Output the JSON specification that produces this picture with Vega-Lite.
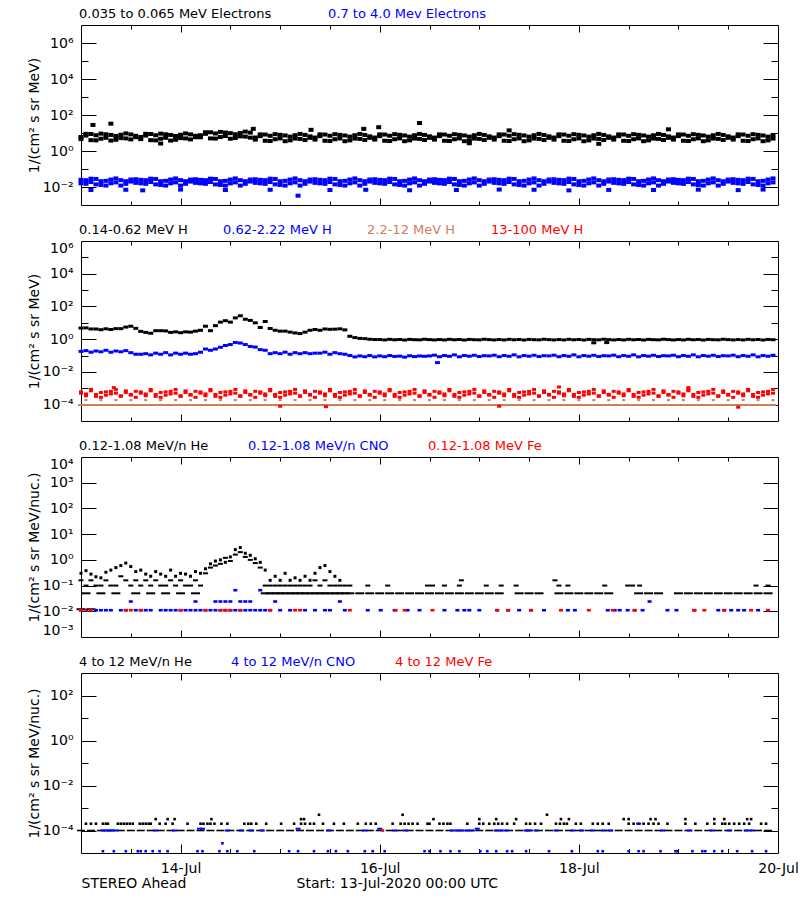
{
"$schema": "https://vega.github.io/schema/vega-lite/v6.json",
"background": "white",
"padding": {"left": 26, "top": 6, "right": 10, "bottom": 5},
"spacing": 16,
"resolve": {"scale": {"color": "independent", "shape": "independent"}, "legend": {"color": "independent", "shape": "independent"}},
"config": {
 "view": {"stroke": "black", "strokeWidth": 1},
 "font": "DejaVu Sans",
 "axis": {"domain": false, "grid": false, "tickColor": "black", "tickWidth": 1, "labelColor": "black", "labelFont": "DejaVu Sans", "labelFontSize": 14, "titleFont": "DejaVu Sans", "titleFontSize": 14, "titleFontWeight": "normal", "titleColor": "black", "labelOverlap": false},
 "legend": {"orient": "top", "direction": "horizontal", "offset": 3, "padding": 0, "labelOffset": -15, "symbolSize": 0.01, "symbolStrokeWidth": 0.01, "symbolOpacity": 0, "labelFontSize": 13, "labelFont": "DejaVu Sans", "labelLimit": 1000}
},
"vconcat": [
{
 "width": 697, "height": 180,
 "data": {"values": [
{"t":13,"a":6.0,"a2":4.6,"b":0.025,"b2":0.016},
{"t":13.05,"a":9.0,"a2":7.2,"b":0.015,"b2":0.024},
{"t":13.1,"a":4.0,"a2":8.8,"b":0.019,"b2":0.029},
{"t":13.15,"a":7.5,"a2":3.9,"b":0.028,"b2":0.014},
{"t":13.2,"a":4.8,"a2":9.2,"b":0.013,"b2":0.021},
{"t":13.25,"a":8.5,"a2":5.4,"b":0.022,"b2":0.012},
{"t":13.3,"a":3.8,"a2":7.8,"b":0.016,"b2":0.026},
{"t":13.35,"a":6.8,"a2":4.2,"b":0.030,"b2":0.018},
{"t":13.4,"a":5.2,"a2":8.0,"b":0.012,"b2":0.024},
{"t":13.45,"a":9.5,"a2":5.0,"b":0.021,"b2":0.015},
{"t":13.5,"a":4.4,"a2":8.4,"b":0.026,"b2":0.020},
{"t":13.55,"a":7.0,"a2":5.8,"b":0.017,"b2":0.027},
{"t":13.6,"a":4.6,"a2":6.0,"b":0.025,"b2":0.016},
{"t":13.65,"a":7.2,"a2":9.0,"b":0.015,"b2":0.024},
{"t":13.7,"a":8.8,"a2":4.0,"b":0.019,"b2":0.029},
{"t":13.75,"a":3.9,"a2":7.5,"b":0.028,"b2":0.014},
{"t":13.8,"a":9.2,"a2":4.8,"b":0.013,"b2":0.021},
{"t":13.85,"a":5.4,"a2":8.5,"b":0.022,"b2":0.012},
{"t":13.9,"a":7.8,"a2":3.8,"b":0.016,"b2":0.026},
{"t":13.95,"a":4.2,"a2":6.8,"b":0.030,"b2":0.018},
{"t":14,"a":8.0,"a2":5.2,"b":0.012,"b2":0.024},
{"t":14.05,"a":5.0,"a2":9.5,"b":0.021,"b2":0.015},
{"t":14.1,"a":8.4,"a2":4.4,"b":0.026,"b2":0.020},
{"t":14.15,"a":5.8,"a2":7.0,"b":0.017,"b2":0.027},
{"t":14.2,"a":7.5,"a2":5.8,"b":0.025,"b2":0.016},
{"t":14.25,"a":11,"a2":9.0,"b":0.015,"b2":0.024},
{"t":14.3,"a":5.0,"a2":11,"b":0.019,"b2":0.029},
{"t":14.35,"a":9.4,"a2":4.9,"b":0.028,"b2":0.014},
{"t":14.4,"a":6.0,"a2":11.5,"b":0.013,"b2":0.021},
{"t":14.45,"a":10.6,"a2":6.8,"b":0.022,"b2":0.012},
{"t":14.5,"a":4.8,"a2":9.8,"b":0.016,"b2":0.026},
{"t":14.55,"a":8.5,"a2":5.3,"b":0.030,"b2":0.018},
{"t":14.6,"a":6.5,"a2":10,"b":0.012,"b2":0.024},
{"t":14.65,"a":12,"a2":6.3,"b":0.021,"b2":0.015},
{"t":14.7,"a":5.5,"a2":10.5,"b":0.026,"b2":0.020},
{"t":14.75,"a":5.6,"a2":4.3,"b":0.017,"b2":0.027},
{"t":14.8,"a":8.4,"a2":6.7,"b":0.025,"b2":0.016},
{"t":14.85,"a":3.7,"a2":8.2,"b":0.015,"b2":0.024},
{"t":14.9,"a":7.0,"a2":3.6,"b":0.019,"b2":0.029},
{"t":14.95,"a":4.5,"a2":8.6,"b":0.028,"b2":0.014},
{"t":15,"a":7.9,"a2":5.0,"b":0.013,"b2":0.021},
{"t":15.05,"a":3.5,"a2":7.3,"b":0.022,"b2":0.012},
{"t":15.1,"a":6.3,"a2":3.9,"b":0.016,"b2":0.026},
{"t":15.15,"a":4.9,"a2":7.5,"b":0.030,"b2":0.018},
{"t":15.2,"a":8.9,"a2":4.7,"b":0.012,"b2":0.024},
{"t":15.25,"a":4.1,"a2":7.8,"b":0.021,"b2":0.015},
{"t":15.3,"a":6.5,"a2":5.4,"b":0.026,"b2":0.020},
{"t":15.35,"a":4.3,"a2":5.6,"b":0.017,"b2":0.027},
{"t":15.4,"a":6.7,"a2":8.4,"b":0.025,"b2":0.016},
{"t":15.45,"a":8.2,"a2":3.7,"b":0.015,"b2":0.024},
{"t":15.5,"a":3.6,"a2":7.0,"b":0.019,"b2":0.029},
{"t":15.55,"a":8.6,"a2":4.5,"b":0.028,"b2":0.014},
{"t":15.6,"a":5.0,"a2":7.9,"b":0.013,"b2":0.021},
{"t":15.65,"a":7.3,"a2":3.5,"b":0.022,"b2":0.012},
{"t":15.7,"a":3.9,"a2":6.3,"b":0.016,"b2":0.026},
{"t":15.75,"a":7.5,"a2":4.9,"b":0.030,"b2":0.018},
{"t":15.8,"a":4.7,"a2":8.9,"b":0.012,"b2":0.024},
{"t":15.85,"a":7.8,"a2":4.1,"b":0.021,"b2":0.015},
{"t":15.9,"a":5.4,"a2":6.5,"b":0.026,"b2":0.020},
{"t":15.95,"a":5.6,"a2":4.3,"b":0.017,"b2":0.027},
{"t":16,"a":8.4,"a2":6.7,"b":0.025,"b2":0.016},
{"t":16.05,"a":3.7,"a2":8.2,"b":0.015,"b2":0.024},
{"t":16.1,"a":7.0,"a2":3.6,"b":0.019,"b2":0.029},
{"t":16.15,"a":4.5,"a2":8.6,"b":0.028,"b2":0.014},
{"t":16.2,"a":7.9,"a2":5.0,"b":0.013,"b2":0.021},
{"t":16.25,"a":3.5,"a2":7.3,"b":0.022,"b2":0.012},
{"t":16.3,"a":6.3,"a2":3.9,"b":0.016,"b2":0.026},
{"t":16.35,"a":4.9,"a2":7.5,"b":0.030,"b2":0.018},
{"t":16.4,"a":8.9,"a2":4.7,"b":0.012,"b2":0.024},
{"t":16.45,"a":4.1,"a2":7.8,"b":0.021,"b2":0.015},
{"t":16.5,"a":6.5,"a2":5.4,"b":0.026,"b2":0.020},
{"t":16.55,"a":4.3,"a2":5.6,"b":0.017,"b2":0.027},
{"t":16.6,"a":6.7,"a2":8.4,"b":0.025,"b2":0.016},
{"t":16.65,"a":8.2,"a2":3.7,"b":0.015,"b2":0.024},
{"t":16.7,"a":3.6,"a2":7.0,"b":0.019,"b2":0.029},
{"t":16.75,"a":8.6,"a2":4.5,"b":0.028,"b2":0.014},
{"t":16.8,"a":5.0,"a2":7.9,"b":0.013,"b2":0.021},
{"t":16.85,"a":7.3,"a2":3.5,"b":0.022,"b2":0.012},
{"t":16.9,"a":3.9,"a2":6.3,"b":0.016,"b2":0.026},
{"t":16.95,"a":7.5,"a2":4.9,"b":0.030,"b2":0.018},
{"t":17,"a":4.7,"a2":8.9,"b":0.012,"b2":0.024},
{"t":17.05,"a":7.8,"a2":4.1,"b":0.021,"b2":0.015},
{"t":17.1,"a":5.4,"a2":6.5,"b":0.026,"b2":0.020},
{"t":17.15,"a":5.6,"a2":4.3,"b":0.017,"b2":0.027},
{"t":17.2,"a":8.4,"a2":6.7,"b":0.025,"b2":0.016},
{"t":17.25,"a":3.7,"a2":8.2,"b":0.015,"b2":0.024},
{"t":17.3,"a":7.0,"a2":3.6,"b":0.019,"b2":0.029},
{"t":17.35,"a":4.5,"a2":8.6,"b":0.028,"b2":0.014},
{"t":17.4,"a":7.9,"a2":5.0,"b":0.013,"b2":0.021},
{"t":17.45,"a":3.5,"a2":7.3,"b":0.022,"b2":0.012},
{"t":17.5,"a":6.3,"a2":3.9,"b":0.016,"b2":0.026},
{"t":17.55,"a":4.9,"a2":7.5,"b":0.030,"b2":0.018},
{"t":17.6,"a":8.9,"a2":4.7,"b":0.012,"b2":0.024},
{"t":17.65,"a":4.1,"a2":7.8,"b":0.021,"b2":0.015},
{"t":17.7,"a":6.5,"a2":5.4,"b":0.026,"b2":0.020},
{"t":17.75,"a":4.3,"a2":5.6,"b":0.017,"b2":0.027},
{"t":17.8,"a":6.7,"a2":8.4,"b":0.025,"b2":0.016},
{"t":17.85,"a":8.2,"a2":3.7,"b":0.015,"b2":0.024},
{"t":17.9,"a":3.6,"a2":7.0,"b":0.019,"b2":0.029},
{"t":17.95,"a":8.6,"a2":4.5,"b":0.028,"b2":0.014},
{"t":18,"a":5.0,"a2":7.9,"b":0.013,"b2":0.021},
{"t":18.05,"a":7.3,"a2":3.5,"b":0.022,"b2":0.012},
{"t":18.1,"a":3.9,"a2":6.3,"b":0.016,"b2":0.026},
{"t":18.15,"a":7.5,"a2":4.9,"b":0.030,"b2":0.018},
{"t":18.2,"a":4.7,"a2":8.9,"b":0.012,"b2":0.024},
{"t":18.25,"a":7.8,"a2":4.1,"b":0.021,"b2":0.015},
{"t":18.3,"a":5.4,"a2":6.5,"b":0.026,"b2":0.020},
{"t":18.35,"a":5.6,"a2":4.3,"b":0.017,"b2":0.027},
{"t":18.4,"a":8.4,"a2":6.7,"b":0.025,"b2":0.016},
{"t":18.45,"a":3.7,"a2":8.2,"b":0.015,"b2":0.024},
{"t":18.5,"a":7.0,"a2":3.6,"b":0.019,"b2":0.029},
{"t":18.55,"a":4.5,"a2":8.6,"b":0.028,"b2":0.014},
{"t":18.6,"a":7.9,"a2":5.0,"b":0.013,"b2":0.021},
{"t":18.65,"a":3.5,"a2":7.3,"b":0.022,"b2":0.012},
{"t":18.7,"a":6.3,"a2":3.9,"b":0.016,"b2":0.026},
{"t":18.75,"a":4.9,"a2":7.5,"b":0.030,"b2":0.018},
{"t":18.8,"a":8.9,"a2":4.7,"b":0.012,"b2":0.024},
{"t":18.85,"a":4.1,"a2":7.8,"b":0.021,"b2":0.015},
{"t":18.9,"a":6.5,"a2":5.4,"b":0.026,"b2":0.020},
{"t":18.95,"a":4.3,"a2":5.6,"b":0.017,"b2":0.027},
{"t":19,"a":6.7,"a2":8.4,"b":0.025,"b2":0.016},
{"t":19.05,"a":8.2,"a2":3.7,"b":0.015,"b2":0.024},
{"t":19.1,"a":3.6,"a2":7.0,"b":0.019,"b2":0.029},
{"t":19.15,"a":8.6,"a2":4.5,"b":0.028,"b2":0.014},
{"t":19.2,"a":5.0,"a2":7.9,"b":0.013,"b2":0.021},
{"t":19.25,"a":7.3,"a2":3.5,"b":0.022,"b2":0.012},
{"t":19.3,"a":3.9,"a2":6.3,"b":0.016,"b2":0.026},
{"t":19.35,"a":7.5,"a2":4.9,"b":0.030,"b2":0.018},
{"t":19.4,"a":4.7,"a2":8.9,"b":0.012,"b2":0.024},
{"t":19.45,"a":7.8,"a2":4.1,"b":0.021,"b2":0.015},
{"t":19.5,"a":5.4,"a2":6.5,"b":0.026,"b2":0.020},
{"t":19.55,"a":5.6,"a2":4.3,"b":0.017,"b2":0.027},
{"t":19.6,"a":8.4,"a2":6.7,"b":0.025,"b2":0.016},
{"t":19.65,"a":3.7,"a2":8.2,"b":0.015,"b2":0.024},
{"t":19.7,"a":7.0,"a2":3.6,"b":0.019,"b2":0.029},
{"t":19.75,"a":4.5,"a2":8.6,"b":0.028,"b2":0.014},
{"t":19.8,"a":7.9,"a2":5.0,"b":0.013,"b2":0.021},
{"t":19.85,"a":3.5,"a2":7.3,"b":0.022,"b2":0.012},
{"t":19.9,"a":6.3,"a2":3.9,"b":0.016,"b2":0.026},
{"t":19.95,"a":4.9,"a2":7.5,"b":0.030,"b2":0.018},
{"t":13.12,"a":28},{"t":13.3,"a":33},{"t":14.73,"a":17},{"t":15.31,"a":15},{"t":15.84,"a":17},{"t":15.99,"a":21},{"t":16.4,"a":36},{"t":17.3,"a":14},{"t":18.9,"a":16},{"t":13.8,"a":2.6},{"t":16.9,"a":2.7},{"t":18.2,"a":2.5},
{"t":13.1,"b":0.0068},{"t":13.45,"b":0.007},{"t":13.62,"b":0.0065},{"t":14.0,"b":0.0072},{"t":14.45,"b":0.0068},{"t":14.9,"b":0.007},{"t":15.18,"b":0.0033},{"t":15.5,"b":0.0068},{"t":15.86,"b":0.007},{"t":16.3,"b":0.0066},{"t":16.77,"b":0.0068},{"t":17.2,"b":0.0072},{"t":17.55,"b":0.007},{"t":17.9,"b":0.0065},{"t":18.3,"b":0.0069},{"t":18.75,"b":0.0068},{"t":19.2,"b":0.0071},{"t":19.6,"b":0.0067},{"t":19.85,"b":0.0072}
 ]},
 "transform": [{"fold": ["a","a2","b","b2"], "as": ["k","v"]}],
 "layer": [
  {"mark": {"type": "point", "filled": true, "opacity": 1, "strokeWidth": 0, "size": 4},
   "encoding": {
    "x": {"field": "t", "type": "quantitative", "scale": {"domain": [13,20], "nice": false, "zero": false}, "axis": null},
    "y": {"field": "v", "type": "quantitative", "scale": {"type": "log", "domain": [0.001,10000000], "nice": false}, "axis": {"orient": "left", "values": [0.01,1,100,10000,1000000], "ticks": false, "labelPadding": 8, "labelFlush": true, "labelExpr": "'10' + ['⁻⁵','⁻⁴','⁻³','⁻²','⁻¹','⁰','¹','²','³','⁴','⁵','⁶','⁷'][round(log(datum.value)/LN10)+5]", "title": "1/(cm² s sr MeV)", "titleX": -47, "titleY": 90, "titleAngle": -90, "titleBaseline": "middle", "titleAlign": "center"}},
    "color": {"field": "k", "type": "nominal", "scale": {"domain": ["a","a2","b","b2"], "range": ["#000000","#000000","#0000ff","#0000ff"]},
      "legend": {"title": null, "values": ["a","b"], "labelExpr": "datum.value == 'a' ? '0.035 to 0.065 MeV Electrons' : '0.7 to 4.0 Mev Electrons'", "labelColor": {"expr": "datum.value == 'a' ? '#000000' : '#0000ff'"}, "columnPadding": 56}},
    "shape": {"field": "k", "type": "nominal", "scale": {"domain": ["a","a2","b","b2"], "range": ["M-2.5,-2H2.5V2H-2.5Z","M-2.5,-2H2.5V2H-2.5Z","M-2.5,-2H2.5V2H-2.5Z","M-2.5,-2H2.5V2H-2.5Z"]}, "legend": null}
   }},
  {"transform": [{"filter": "datum.k == 'a'"}], "mark": {"type": "point", "opacity": 0},
   "encoding": {
    "x": {"field": "t", "type": "quantitative", "scale": {"domain": [13,20], "nice": false, "zero": false}, "axis": {"orient": "bottom", "values": [14,16,18], "tickSize": -7, "labels": false, "title": null}},
    "y": {"field": "v", "type": "quantitative", "scale": {"type": "log", "domain": [0.001,10000000], "nice": false}, "axis": {"orient": "left", "values": [0.01,1,100,10000,1000000], "tickSize": -15, "labels": false, "title": null}}}},
  {"transform": [{"filter": "datum.k == 'a'"}], "mark": {"type": "point", "opacity": 0},
   "encoding": {
    "x": {"field": "t", "type": "quantitative", "scale": {"domain": [13,20], "nice": false, "zero": false}, "axis": {"orient": "bottom", "values": [13.5,14,14.5,15,15.5,16,16.5,17,17.5,18,18.5,19,19.5], "tickSize": -4, "labels": false, "title": null}},
    "y": {"field": "v", "type": "quantitative", "scale": {"type": "log", "domain": [0.001,10000000], "nice": false}, "axis": {"orient": "left", "values": [0.1,10,1000,100000], "tickSize": -7, "labels": false, "title": null}}}},
  {"transform": [{"filter": "datum.k == 'a'"}], "mark": {"type": "point", "opacity": 0},
   "encoding": {
    "x": {"field": "t", "type": "quantitative", "scale": {"domain": [13,20], "nice": false, "zero": false}, "axis": {"orient": "top", "values": [14,16,18], "tickSize": -7, "labels": false, "title": null}},
    "y": {"field": "v", "type": "quantitative", "scale": {"type": "log", "domain": [0.001,10000000], "nice": false}, "axis": {"orient": "right", "values": [0.01,1,100,10000,1000000], "tickSize": -15, "labels": false, "title": null}}}},
  {"transform": [{"filter": "datum.k == 'a'"}], "mark": {"type": "point", "opacity": 0},
   "encoding": {
    "x": {"field": "t", "type": "quantitative", "scale": {"domain": [13,20], "nice": false, "zero": false}, "axis": {"orient": "top", "values": [13.5,14,14.5,15,15.5,16,16.5,17,17.5,18,18.5,19,19.5], "tickSize": -4, "labels": false, "title": null}},
    "y": {"field": "v", "type": "quantitative", "scale": {"type": "log", "domain": [0.001,10000000], "nice": false}, "axis": {"orient": "right", "values": [0.1,10,1000,100000], "tickSize": -7, "labels": false, "title": null}}}}
 ],
 "resolve": {"axis": {"x": "independent", "y": "independent"}}
},
{
 "width": 697, "height": 180,
 "data": {"values": [
{"t":13,"a":4.8,"b":0.18,"c":9.5e-5,"d":5e-4,"d2":6e-4},
{"t":13.05,"a":4.9,"b":0.2,"c":9.5e-5,"c2":1.9e-4,"d":3.5e-4,"d2":4.5e-4},
{"t":13.1,"a":4.2,"b":0.16,"c":9.5e-5,"d":7e-4,"d2":8.5e-4},
{"t":13.15,"a":4.2,"b":0.19,"c":9.5e-5,"d":4.2e-4,"d2":3.2e-4},
{"t":13.2,"a":3.8,"b":0.17,"c":9.5e-5,"c2":1.9e-4,"d":2.8e-4,"d2":5.5e-4},
{"t":13.25,"a":4.3,"b":0.21,"c":9.5e-5,"d":6e-4,"d2":3.8e-4},
{"t":13.3,"a":3.9,"b":0.16,"c":9.5e-5,"d":4.5e-4,"d2":6.5e-4},
{"t":13.35,"a":4.4,"b":0.19,"c":9.5e-5,"c2":1.9e-4,"d":8.5e-4,"d2":5e-4},
{"t":13.4,"a":4.4,"b":0.17,"c":9.5e-5,"d":3.2e-4,"d2":3.5e-4},
{"t":13.45,"a":5.5,"b":0.2,"c":9.5e-5,"d":5.5e-4,"d2":7e-4},
{"t":13.5,"a":6.2,"b":0.15,"c":9.5e-5,"c2":1.9e-4,"d":3.8e-4,"d2":4.2e-4},
{"t":13.55,"a":4.6,"b":0.12,"c":9.5e-5,"d":6.5e-4,"d2":2.8e-4},
{"t":13.6,"a":3.0,"b":0.12,"c":9.5e-5,"d":5e-4,"d2":6e-4},
{"t":13.65,"a":2.6,"b":0.13,"c":9.5e-5,"c2":1.9e-4,"d":3.5e-4,"d2":4.5e-4},
{"t":13.7,"a":2.3,"b":0.11,"c":9.5e-5,"d":7e-4,"d2":8.5e-4},
{"t":13.75,"a":3.3,"b":0.14,"c":9.5e-5,"d":4.2e-4,"d2":3.2e-4},
{"t":13.8,"a":3.3,"b":0.12,"c":9.5e-5,"c2":1.9e-4,"d":2.8e-4,"d2":5.5e-4},
{"t":13.85,"a":3.2,"b":0.15,"c":9.5e-5,"d":6e-4,"d2":3.8e-4},
{"t":13.9,"a":2.6,"b":0.11,"c":9.5e-5,"d":4.5e-4,"d2":6.5e-4},
{"t":13.95,"a":2.8,"b":0.14,"c":9.5e-5,"c2":1.9e-4,"d":8.5e-4,"d2":5e-4},
{"t":14,"a":2.5,"b":0.12,"c":9.5e-5,"d":3.2e-4,"d2":3.5e-4},
{"t":14.05,"a":2.8,"b":0.14,"c":9.5e-5,"d":5.5e-4,"d2":7e-4},
{"t":14.1,"a":2.7,"b":0.12,"c":9.5e-5,"c2":1.9e-4,"d":3.8e-4,"d2":4.2e-4},
{"t":14.15,"a":3.1,"b":0.13,"c":9.5e-5,"d":6.5e-4,"d2":2.8e-4},
{"t":14.2,"a":3.5,"b":0.16,"c":9.5e-5,"d":5e-4,"d2":6e-4},
{"t":14.25,"a":6.2,"b":0.25,"c":9.5e-5,"c2":1.9e-4,"d":3.5e-4,"d2":4.5e-4},
{"t":14.3,"a":3.3,"b":0.21,"c":9.5e-5,"d":7e-4,"d2":8.5e-4},
{"t":14.35,"a":6.7,"b":0.25,"c":9.5e-5,"d":4.2e-4,"d2":3.2e-4},
{"t":14.4,"a":11,"b":0.32,"c":9.5e-5,"c2":1.9e-4,"d":2.8e-4,"d2":5.5e-4},
{"t":14.45,"a":13.5,"b":0.41,"c":9.5e-5,"d":6e-4,"d2":3.8e-4},
{"t":14.5,"a":11,"b":0.47,"c":9.5e-5,"d":4.5e-4,"d2":6.5e-4},
{"t":14.55,"a":20,"b":0.63,"c":9.5e-5,"c2":1.9e-4,"d":8.5e-4,"d2":5e-4},
{"t":14.6,"a":27,"b":0.58,"c":9.5e-5,"d":3.2e-4,"d2":3.5e-4},
{"t":14.65,"a":16.5,"b":0.47,"c":9.5e-5,"d":5.5e-4,"d2":7e-4},
{"t":14.7,"a":14,"b":0.36,"c":9.5e-5,"c2":1.9e-4,"d":3.8e-4,"d2":4.2e-4},
{"t":14.75,"a":10,"b":0.33,"c":9.5e-5,"d":6.5e-4,"d2":2.8e-4},
{"t":14.8,"a":5.2,"b":0.23,"c":9.5e-5,"d":5e-4,"d2":6e-4},
{"t":14.85,"a":12,"b":0.21,"c":9.5e-5,"c2":1.9e-4,"d":3.5e-4,"d2":4.5e-4},
{"t":14.9,"a":4.5,"b":0.13,"c":9.5e-5,"d":7e-4,"d2":8.5e-4},
{"t":14.95,"a":3.5,"b":0.15,"c":9.5e-5,"d":4.2e-4,"d2":3.2e-4},
{"t":15,"a":3.1,"b":0.13,"c":9.5e-5,"c2":1.9e-4,"d":2.8e-4,"d2":5.5e-4},
{"t":15.05,"a":3.1,"b":0.16,"c":9.5e-5,"d":6e-4,"d2":3.8e-4},
{"t":15.1,"a":2.7,"b":0.12,"c":9.5e-5,"d":4.5e-4,"d2":6.5e-4},
{"t":15.15,"a":2.4,"b":0.15,"c":9.5e-5,"c2":1.9e-4,"d":8.5e-4,"d2":5e-4},
{"t":15.2,"a":2.2,"b":0.13,"c":9.5e-5,"d":3.2e-4,"d2":3.5e-4},
{"t":15.25,"a":2.7,"b":0.15,"c":9.5e-5,"d":5.5e-4,"d2":7e-4},
{"t":15.3,"a":3.5,"b":0.13,"c":9.5e-5,"c2":1.9e-4,"d":3.8e-4,"d2":4.2e-4},
{"t":15.35,"a":3.9,"b":0.14,"c":9.5e-5,"d":6.5e-4,"d2":2.8e-4},
{"t":15.4,"a":3.5,"b":0.14,"c":9.5e-5,"d":5e-4,"d2":6e-4},
{"t":15.45,"a":4.2,"b":0.16,"c":9.5e-5,"c2":1.9e-4,"d":3.5e-4,"d2":4.5e-4},
{"t":15.5,"a":4.0,"b":0.12,"c":9.5e-5,"d":7e-4,"d2":8.5e-4},
{"t":15.55,"a":4.1,"b":0.15,"c":9.5e-5,"d":4.2e-4,"d2":3.2e-4},
{"t":15.6,"a":4.3,"b":0.13,"c":9.5e-5,"c2":1.9e-4,"d":2.8e-4,"d2":5.5e-4},
{"t":15.65,"a":3.7,"b":0.12,"c":9.5e-5,"d":6e-4,"d2":3.8e-4},
{"t":15.7,"a":1.5,"b":0.1,"c":9.5e-5,"d":4.5e-4,"d2":6.5e-4},
{"t":15.75,"a":1.25,"b":0.083,"c":9.5e-5,"c2":1.9e-4,"d":8.5e-4,"d2":5e-4},
{"t":15.8,"a":1.12,"b":0.095,"c":9.5e-5,"d":3.2e-4,"d2":3.5e-4},
{"t":15.85,"a":1.08,"b":0.085,"c":9.5e-5,"d":5.5e-4,"d2":7e-4},
{"t":15.9,"a":0.99,"b":0.1,"c":9.5e-5,"c2":1.9e-4,"d":3.8e-4,"d2":4.2e-4},
{"t":15.95,"a":0.95,"b":0.083,"c":9.5e-5,"d":6.5e-4,"d2":2.8e-4},
{"t":16,"a":0.95,"b":0.095,"c":9.5e-5,"d":5e-4,"d2":6e-4},
{"t":16.05,"a":0.9,"b":0.085,"c":9.5e-5,"c2":1.9e-4,"d":3.5e-4,"d2":4.5e-4},
{"t":16.1,"a":0.98,"b":0.1,"c":9.5e-5,"d":7e-4,"d2":8.5e-4},
{"t":16.15,"a":0.92,"b":0.088,"c":9.5e-5,"d":4.2e-4,"d2":3.2e-4},
{"t":16.2,"a":0.96,"b":0.092,"c":9.5e-5,"c2":1.9e-4,"d":2.8e-4,"d2":5.5e-4},
{"t":16.25,"a":0.89,"b":0.08,"c":9.5e-5,"d":6e-4,"d2":3.8e-4},
{"t":16.3,"a":0.97,"b":0.097,"c":9.5e-5,"d":4.5e-4,"d2":6.5e-4},
{"t":16.35,"a":0.93,"b":0.086,"c":9.5e-5,"c2":1.9e-4,"d":8.5e-4,"d2":5e-4},
{"t":16.4,"a":0.91,"b":0.094,"c":9.5e-5,"d":3.2e-4,"d2":3.5e-4},
{"t":16.45,"a":0.99,"b":0.09,"c":9.5e-5,"d":5.5e-4,"d2":7e-4},
{"t":16.5,"a":0.94,"b":0.095,"c":9.5e-5,"c2":1.9e-4,"d":3.8e-4,"d2":4.2e-4},
{"t":16.55,"a":0.9,"b":0.105,"c":9.5e-5,"d":6.5e-4,"d2":2.8e-4},
{"t":16.6,"a":0.95,"b":0.085,"c":9.5e-5,"d":5e-4,"d2":6e-4},
{"t":16.65,"a":0.9,"b":0.1,"c":9.5e-5,"c2":1.9e-4,"d":3.5e-4,"d2":4.5e-4},
{"t":16.7,"a":0.98,"b":0.09,"c":9.5e-5,"d":7e-4,"d2":8.5e-4},
{"t":16.75,"a":0.92,"b":0.11,"c":9.5e-5,"d":4.2e-4,"d2":3.2e-4},
{"t":16.8,"a":0.96,"b":0.084,"c":9.5e-5,"c2":1.9e-4,"d":2.8e-4,"d2":5.5e-4},
{"t":16.85,"a":0.89,"b":0.1,"c":9.5e-5,"d":6e-4,"d2":3.8e-4},
{"t":16.9,"a":0.97,"b":0.091,"c":9.5e-5,"d":4.5e-4,"d2":6.5e-4},
{"t":16.95,"a":0.93,"b":0.104,"c":9.5e-5,"c2":1.9e-4,"d":8.5e-4,"d2":5e-4},
{"t":17,"a":0.91,"b":0.087,"c":9.5e-5,"d":3.2e-4,"d2":3.5e-4},
{"t":17.05,"a":0.99,"b":0.098,"c":9.5e-5,"d":5.5e-4,"d2":7e-4},
{"t":17.1,"a":0.94,"b":0.095,"c":9.5e-5,"c2":1.9e-4,"d":3.8e-4,"d2":4.2e-4},
{"t":17.15,"a":0.9,"b":0.105,"c":9.5e-5,"d":6.5e-4,"d2":2.8e-4},
{"t":17.2,"a":0.95,"b":0.085,"c":9.5e-5,"d":5e-4,"d2":6e-4},
{"t":17.25,"a":0.9,"b":0.1,"c":9.5e-5,"c2":1.9e-4,"d":3.5e-4,"d2":4.5e-4},
{"t":17.3,"a":0.98,"b":0.09,"c":9.5e-5,"d":7e-4,"d2":8.5e-4},
{"t":17.35,"a":0.92,"b":0.11,"c":9.5e-5,"d":4.2e-4,"d2":3.2e-4},
{"t":17.4,"a":0.96,"b":0.084,"c":9.5e-5,"c2":1.9e-4,"d":2.8e-4,"d2":5.5e-4},
{"t":17.45,"a":0.89,"b":0.1,"c":9.5e-5,"d":6e-4,"d2":3.8e-4},
{"t":17.5,"a":0.97,"b":0.091,"c":9.5e-5,"d":4.5e-4,"d2":6.5e-4},
{"t":17.55,"a":0.93,"b":0.104,"c":9.5e-5,"c2":1.9e-4,"d":8.5e-4,"d2":5e-4},
{"t":17.6,"a":0.91,"b":0.087,"c":9.5e-5,"d":3.2e-4,"d2":3.5e-4},
{"t":17.65,"a":0.99,"b":0.098,"c":9.5e-5,"d":5.5e-4,"d2":7e-4},
{"t":17.7,"a":0.94,"b":0.095,"c":9.5e-5,"c2":1.9e-4,"d":3.8e-4,"d2":4.2e-4},
{"t":17.75,"a":0.9,"b":0.105,"c":9.5e-5,"d":6.5e-4,"d2":2.8e-4},
{"t":17.8,"a":0.95,"b":0.085,"c":9.5e-5,"d":5e-4,"d2":6e-4},
{"t":17.85,"a":0.9,"b":0.1,"c":9.5e-5,"c2":1.9e-4,"d":3.5e-4,"d2":4.5e-4},
{"t":17.9,"a":0.98,"b":0.09,"c":9.5e-5,"d":7e-4,"d2":8.5e-4},
{"t":17.95,"a":0.92,"b":0.11,"c":9.5e-5,"d":4.2e-4,"d2":3.2e-4},
{"t":18,"a":0.96,"b":0.084,"c":9.5e-5,"c2":1.9e-4,"d":2.8e-4,"d2":5.5e-4},
{"t":18.05,"a":0.89,"b":0.1,"c":9.5e-5,"d":6e-4,"d2":3.8e-4},
{"t":18.1,"a":0.97,"b":0.091,"c":9.5e-5,"d":4.5e-4,"d2":6.5e-4},
{"t":18.15,"a":0.93,"b":0.104,"c":9.5e-5,"c2":1.9e-4,"d":8.5e-4,"d2":5e-4},
{"t":18.2,"a":0.91,"b":0.087,"c":9.5e-5,"d":3.2e-4,"d2":3.5e-4},
{"t":18.25,"a":0.99,"b":0.098,"c":9.5e-5,"d":5.5e-4,"d2":7e-4},
{"t":18.3,"a":0.94,"b":0.095,"c":9.5e-5,"c2":1.9e-4,"d":3.8e-4,"d2":4.2e-4},
{"t":18.35,"a":0.9,"b":0.105,"c":9.5e-5,"d":6.5e-4,"d2":2.8e-4},
{"t":18.4,"a":0.95,"b":0.085,"c":9.5e-5,"d":5e-4,"d2":6e-4},
{"t":18.45,"a":0.9,"b":0.1,"c":9.5e-5,"c2":1.9e-4,"d":3.5e-4,"d2":4.5e-4},
{"t":18.5,"a":0.98,"b":0.09,"c":9.5e-5,"d":7e-4,"d2":8.5e-4},
{"t":18.55,"a":0.92,"b":0.11,"c":9.5e-5,"d":4.2e-4,"d2":3.2e-4},
{"t":18.6,"a":0.96,"b":0.084,"c":9.5e-5,"c2":1.9e-4,"d":2.8e-4,"d2":5.5e-4},
{"t":18.65,"a":0.89,"b":0.1,"c":9.5e-5,"d":6e-4,"d2":3.8e-4},
{"t":18.7,"a":0.97,"b":0.091,"c":9.5e-5,"d":4.5e-4,"d2":6.5e-4},
{"t":18.75,"a":0.93,"b":0.104,"c":9.5e-5,"c2":1.9e-4,"d":8.5e-4,"d2":5e-4},
{"t":18.8,"a":0.91,"b":0.087,"c":9.5e-5,"d":3.2e-4,"d2":3.5e-4},
{"t":18.85,"a":0.99,"b":0.098,"c":9.5e-5,"d":5.5e-4,"d2":7e-4},
{"t":18.9,"a":0.94,"b":0.095,"c":9.5e-5,"c2":1.9e-4,"d":3.8e-4,"d2":4.2e-4},
{"t":18.95,"a":0.9,"b":0.105,"c":9.5e-5,"d":6.5e-4,"d2":2.8e-4},
{"t":19,"a":0.95,"b":0.085,"c":9.5e-5,"d":5e-4,"d2":6e-4},
{"t":19.05,"a":0.9,"b":0.1,"c":9.5e-5,"c2":1.9e-4,"d":3.5e-4,"d2":4.5e-4},
{"t":19.1,"a":0.98,"b":0.09,"c":9.5e-5,"d":7e-4,"d2":8.5e-4},
{"t":19.15,"a":0.92,"b":0.11,"c":9.5e-5,"d":4.2e-4,"d2":3.2e-4},
{"t":19.2,"a":0.96,"b":0.084,"c":9.5e-5,"c2":1.9e-4,"d":2.8e-4,"d2":5.5e-4},
{"t":19.25,"a":0.89,"b":0.1,"c":9.5e-5,"d":6e-4,"d2":3.8e-4},
{"t":19.3,"a":0.97,"b":0.091,"c":9.5e-5,"d":4.5e-4,"d2":6.5e-4},
{"t":19.35,"a":0.93,"b":0.104,"c":9.5e-5,"c2":1.9e-4,"d":8.5e-4,"d2":5e-4},
{"t":19.4,"a":0.91,"b":0.087,"c":9.5e-5,"d":3.2e-4,"d2":3.5e-4},
{"t":19.45,"a":0.99,"b":0.098,"c":9.5e-5,"d":5.5e-4,"d2":7e-4},
{"t":19.5,"a":0.94,"b":0.095,"c":9.5e-5,"c2":1.9e-4,"d":3.8e-4,"d2":4.2e-4},
{"t":19.55,"a":0.9,"b":0.105,"c":9.5e-5,"d":6.5e-4,"d2":2.8e-4},
{"t":19.6,"a":0.95,"b":0.085,"c":9.5e-5,"d":5e-4,"d2":6e-4},
{"t":19.65,"a":0.9,"b":0.1,"c":9.5e-5,"c2":1.9e-4,"d":3.5e-4,"d2":4.5e-4},
{"t":19.7,"a":0.98,"b":0.09,"c":9.5e-5,"d":7e-4,"d2":8.5e-4},
{"t":19.75,"a":0.92,"b":0.11,"c":9.5e-5,"d":4.2e-4,"d2":3.2e-4},
{"t":19.8,"a":0.96,"b":0.084,"c":9.5e-5,"c2":1.9e-4,"d":2.8e-4,"d2":5.5e-4},
{"t":19.85,"a":0.89,"b":0.1,"c":9.5e-5,"d":6e-4,"d2":3.8e-4},
{"t":19.9,"a":0.97,"b":0.091,"c":9.5e-5,"d":4.5e-4,"d2":6.5e-4},
{"t":19.95,"a":0.93,"b":0.104,"c":9.5e-5,"c2":1.9e-4,"d":8.5e-4,"d2":5e-4},
{"t":15.0,"d":8e-5},{"t":15.46,"d":7.5e-5},{"t":19.6,"d":7e-5},{"t":17.2,"d":8e-5},{"t":16.58,"b":0.037},{"t":18.15,"a":0.6},{"t":18.28,"a":0.62},{"t":13.33,"d":1.1e-3},{"t":17.8,"d":1.2e-3},{"t":19.1,"d":1.1e-3}
 ]},
 "transform": [{"fold": ["a","b","c","c2","d","d2"], "as": ["k","v"]}],
 "layer": [
  {"mark": {"type": "point", "filled": true, "opacity": 1, "strokeWidth": 0, "size": 4},
   "encoding": {
    "x": {"field": "t", "type": "quantitative", "scale": {"domain": [13,20], "nice": false, "zero": false}, "axis": null},
    "y": {"field": "v", "type": "quantitative", "scale": {"type": "log", "domain": [0.00001,1000000], "nice": false}, "axis": {"orient": "left", "values": [0.0001,0.01,1,100,10000,1000000], "ticks": false, "labelPadding": 8, "labelFlush": true, "labelExpr": "'10' + ['⁻⁵','⁻⁴','⁻³','⁻²','⁻¹','⁰','¹','²','³','⁴','⁵','⁶','⁷'][round(log(datum.value)/LN10)+5]", "title": "1/(cm² s sr MeV)", "titleX": -47, "titleY": 90, "titleAngle": -90, "titleBaseline": "middle", "titleAlign": "center"}},
    "color": {"field": "k", "type": "nominal", "scale": {"domain": ["a","b","c","c2","d","d2"], "range": ["#000000","#0000ff","#cd7f5f","#cd7f5f","#ff0000","#ff0000"]},
      "legend": {"title": null, "values": ["a","b","c","d"], "labelExpr": "datum.value == 'a' ? '0.14-0.62 MeV H' : datum.value == 'b' ? '0.62-2.22 MeV H' : datum.value == 'c' ? '2.2-12 MeV H' : '13-100 MeV H'", "labelColor": {"expr": "datum.value == 'a' ? '#000000' : datum.value == 'b' ? '#0000ff' : datum.value == 'c' ? '#cd7f5f' : '#ff0000'"}, "columnPadding": 35}},
    "shape": {"field": "k", "type": "nominal", "scale": {"domain": ["a","b","c","c2","d","d2"], "range": ["M-2.5,-1.5H2.5V1.5H-2.5Z","M-2.5,-1.5H2.5V1.5H-2.5Z","M-3,-1H3V1H-3Z","M-1.5,-1H1.5V1H-1.5Z","M-2,-1.5H2V1.5H-2Z","M-2,-1.5H2V1.5H-2Z"]}, "legend": null}
   }},
  {"transform": [{"filter": "datum.k == 'a'"}], "mark": {"type": "point", "opacity": 0},
   "encoding": {
    "x": {"field": "t", "type": "quantitative", "scale": {"domain": [13,20], "nice": false, "zero": false}, "axis": {"orient": "bottom", "values": [14,16,18], "tickSize": -7, "labels": false, "title": null}},
    "y": {"field": "v", "type": "quantitative", "scale": {"type": "log", "domain": [0.00001,1000000], "nice": false}, "axis": {"orient": "left", "values": [0.0001,0.01,1,100,10000], "tickSize": -15, "labels": false, "title": null}}}},
  {"transform": [{"filter": "datum.k == 'a'"}], "mark": {"type": "point", "opacity": 0},
   "encoding": {
    "x": {"field": "t", "type": "quantitative", "scale": {"domain": [13,20], "nice": false, "zero": false}, "axis": {"orient": "bottom", "values": [13.5,14,14.5,15,15.5,16,16.5,17,17.5,18,18.5,19,19.5], "tickSize": -4, "labels": false, "title": null}},
    "y": {"field": "v", "type": "quantitative", "scale": {"type": "log", "domain": [0.00001,1000000], "nice": false}, "axis": {"orient": "left", "values": [0.001,0.1,10,1000,100000], "tickSize": -7, "labels": false, "title": null}}}},
  {"transform": [{"filter": "datum.k == 'a'"}], "mark": {"type": "point", "opacity": 0},
   "encoding": {
    "x": {"field": "t", "type": "quantitative", "scale": {"domain": [13,20], "nice": false, "zero": false}, "axis": {"orient": "top", "values": [14,16,18], "tickSize": -7, "labels": false, "title": null}},
    "y": {"field": "v", "type": "quantitative", "scale": {"type": "log", "domain": [0.00001,1000000], "nice": false}, "axis": {"orient": "right", "values": [0.0001,0.01,1,100,10000], "tickSize": -15, "labels": false, "title": null}}}},
  {"transform": [{"filter": "datum.k == 'a'"}], "mark": {"type": "point", "opacity": 0},
   "encoding": {
    "x": {"field": "t", "type": "quantitative", "scale": {"domain": [13,20], "nice": false, "zero": false}, "axis": {"orient": "top", "values": [13.5,14,14.5,15,15.5,16,16.5,17,17.5,18,18.5,19,19.5], "tickSize": -4, "labels": false, "title": null}},
    "y": {"field": "v", "type": "quantitative", "scale": {"type": "log", "domain": [0.00001,1000000], "nice": false}, "axis": {"orient": "right", "values": [0.001,0.1,10,1000,100000], "tickSize": -7, "labels": false, "title": null}}}}
 ],
 "resolve": {"axis": {"x": "independent", "y": "independent"}}
},
{
 "width": 697, "height": 180,
 "data": {"values": [
{"t":13,"a":0.3,"a2":0.16,"a3":0.012,"b":0.011,"c":0.011},
{"t":13.05,"a":0.38,"a2":0.1,"a3":0.05,"b":0.011,"c":0.011},
{"t":13.1,"a":0.28,"a2":0.16,"a3":0.012,"b":0.011,"c":0.011},
{"t":13.15,"a":0.22,"a2":0.1,"b":0.011},
{"t":13.2,"a":0.2,"a2":0.1,"a3":0.05,"b":0.011},
{"t":13.25,"a":0.33,"a2":0.16,"b":0.011},
{"t":13.3,"a":0.4,"a2":0.1,"b":0.011},
{"t":13.35,"a":0.5,"a2":0.1,"a3":0.05},
{"t":13.4,"a":0.6,"a2":0.23,"b":0.011},
{"t":13.45,"a":0.75,"a2":0.16,"b":0.011,"c":0.011},
{"t":13.5,"a":0.55,"a2":0.1,"b2":0.024,"c":0.011},
{"t":13.55,"a":0.35,"a2":0.16,"a3":0.05,"b":0.011},
{"t":13.6,"a":0.4,"a2":0.1,"b":0.011,"c":0.011},
{"t":13.65,"a":0.28,"a2":0.16,"b":0.011},
{"t":13.7,"a":0.23,"a2":0.1,"a3":0.05,"b":0.011},
{"t":13.75,"a":0.35,"a2":0.16},
{"t":13.8,"a":0.28,"a2":0.1,"b":0.011},
{"t":13.85,"a":0.23,"a2":0.1,"a3":0.05,"b":0.011},
{"t":13.9,"a":0.4,"a2":0.16,"b":0.011},
{"t":13.95,"a":0.23,"a2":0.1,"b":0.011},
{"t":14,"a":0.3,"a2":0.16,"a3":0.05,"b":0.011,"c":0.011},
{"t":14.05,"a":0.28,"a2":0.1,"b":0.011},
{"t":14.1,"a":0.23,"a2":0.1,"b":0.011},
{"t":14.15,"a":0.35,"a2":0.16,"a3":0.05,"b":0.011,"b2":0.024},
{"t":14.2,"a":0.3,"a2":0.1,"b":0.011},
{"t":14.25,"a":0.45,"a2":0.3,"b":0.011,"c":0.011},
{"t":14.3,"a":0.7,"a2":0.5,"b":0.011},
{"t":14.35,"a":0.9,"a2":0.6,"b":0.011,"b2":0.024},
{"t":14.4,"a":1.0,"a2":0.7,"b":0.011,"b2":0.024,"c":0.011},
{"t":14.45,"a":0.8,"a2":1.2,"b":0.011,"b2":0.024,"c":0.011},
{"t":14.5,"a":1.3,"a2":0.9,"b":0.011,"b2":0.024,"c":0.011},
{"t":14.55,"a":2.5,"a2":1.6,"b":0.011,"b2":0.066},
{"t":14.6,"a":3.0,"a2":2.0,"b":0.011,"b2":0.024,"c":0.011},
{"t":14.65,"a":1.8,"a2":1.3,"b":0.011,"b2":0.024},
{"t":14.7,"a":1.5,"a2":1.0,"b":0.011,"b2":0.024},
{"t":14.75,"a":1.1,"a2":0.75,"b":0.011},
{"t":14.8,"a":0.8,"a2":0.5,"b":0.011,"b2":0.066},
{"t":14.85,"a":0.4,"a2":0.1,"a3":0.05,"b":0.011},
{"t":14.9,"a":0.16,"a2":0.1,"a3":0.05,"b":0.011,"c":0.011},
{"t":14.95,"a":0.23,"a2":0.1,"a3":0.05,"b2":0.024},
{"t":15,"a":0.16,"a2":0.1,"a3":0.05,"b":0.011},
{"t":15.05,"a":0.3,"a2":0.1,"a3":0.05},
{"t":15.1,"a":0.16,"a2":0.1,"a3":0.05,"b":0.011},
{"t":15.15,"a":0.2,"a2":0.1,"a3":0.05,"c":0.011},
{"t":15.2,"a":0.16,"a2":0.1,"a3":0.05,"c":0.011},
{"t":15.25,"a":0.23,"a2":0.1,"a3":0.05,"b":0.011},
{"t":15.3,"a":0.16,"a2":0.1,"a3":0.05},
{"t":15.35,"a":0.3,"a2":0.16,"a3":0.05,"b":0.011},
{"t":15.4,"a":0.5,"a2":0.1,"a3":0.05},
{"t":15.45,"a":0.6,"a2":0.16,"a3":0.05,"b":0.011},
{"t":15.5,"a":0.35,"a2":0.1,"a3":0.05,"b":0.011},
{"t":15.55,"a":0.23,"a2":0.1,"a3":0.05},
{"t":15.6,"a":0.16,"a2":0.1,"a3":0.05,"b2":0.024},
{"t":15.65,"a2":0.1,"a3":0.05,"b":0.011},
{"t":15.7,"a2":0.1,"a3":0.05,"c":0.011},
{"t":15.8,"a3":0.05},{"t":15.9,"a3":0.05},{"t":16,"a3":0.05},{"t":16.1,"a3":0.05},{"t":16.2,"a3":0.05},{"t":16.3,"a3":0.05},{"t":16.4,"a3":0.05},{"t":16.5,"a3":0.05},{"t":16.6,"a3":0.05},{"t":16.7,"a3":0.05},{"t":16.8,"a3":0.05},{"t":16.9,"a3":0.05},{"t":17,"a3":0.05},{"t":17.1,"a3":0.05},{"t":17.2,"a3":0.05},{"t":17.4,"a3":0.05},{"t":17.5,"a3":0.05},{"t":17.6,"a3":0.05},{"t":17.8,"a3":0.05},{"t":17.9,"a3":0.05},{"t":18,"a3":0.05},{"t":18.1,"a3":0.05},{"t":18.2,"a3":0.05},{"t":18.3,"a3":0.05},{"t":18.6,"a3":0.05},{"t":18.7,"a3":0.05},{"t":18.8,"a3":0.05},{"t":19,"a3":0.05},{"t":19.1,"a3":0.05},{"t":19.2,"a3":0.05},{"t":19.3,"a3":0.05},{"t":19.4,"a3":0.05},{"t":19.5,"a3":0.05},{"t":19.6,"a3":0.05},{"t":19.7,"a3":0.05},{"t":19.8,"a3":0.05},{"t":19.9,"a3":0.05},
{"t":15.88,"a2":0.1},{"t":16.08,"a2":0.1},{"t":16.48,"a2":0.1},{"t":16.53,"a2":0.1},{"t":16.65,"a2":0.1},{"t":16.8,"a2":0.1},{"t":16.82,"a2":0.16},{"t":17.07,"a2":0.1},{"t":17.22,"a2":0.1},{"t":17.37,"a2":0.1},{"t":17.76,"a2":0.16},{"t":17.8,"a2":0.1},{"t":17.89,"a2":0.1},{"t":18.26,"a2":0.1},{"t":18.49,"a2":0.1},{"t":18.54,"a2":0.1},{"t":18.61,"a2":0.1},{"t":19.78,"a2":0.1},{"t":19.9,"a2":0.1},
{"t":15.88,"b":0.011},{"t":16.01,"b":0.011},{"t":16.15,"b":0.011},{"t":16.28,"b":0.011},{"t":16.4,"b":0.011},{"t":16.65,"b":0.011},{"t":16.78,"b":0.011},{"t":16.85,"b":0.011},{"t":16.9,"b":0.011},{"t":17.0,"b":0.011},{"t":17.18,"b":0.011},{"t":17.29,"b":0.011},{"t":17.4,"b":0.011},{"t":17.52,"b":0.011},{"t":17.65,"b":0.011},{"t":17.89,"b":0.011},{"t":17.96,"b":0.011},{"t":18.29,"b":0.011},{"t":18.36,"b":0.011},{"t":18.41,"b":0.011},{"t":18.49,"b":0.011},{"t":18.56,"b":0.011},{"t":18.64,"b":0.011},{"t":18.71,"b2":0.024},{"t":18.89,"b":0.011},{"t":18.98,"b":0.011},{"t":19.16,"b":0.011},{"t":19.4,"b":0.011},{"t":19.46,"b":0.011},{"t":19.53,"b":0.011},{"t":19.6,"b":0.011},{"t":19.66,"b":0.011},{"t":19.8,"b":0.011},{"t":19.9,"b":0.011},
{"t":16.16,"c":0.011},{"t":16.25,"c":0.011},{"t":16.53,"c":0.011},{"t":17.18,"c":0.011},{"t":17.29,"c":0.011},{"t":17.52,"c":0.011},{"t":17.82,"c":0.011},{"t":18.1,"c":0.011},{"t":18.34,"c":0.011},{"t":18.56,"c":0.011},{"t":19.16,"c":0.011},{"t":19.26,"c":0.011},{"t":19.46,"c":0.011},{"t":19.73,"c":0.011},{"t":19.9,"c":0.011}
 ]},
 "transform": [{"fold": ["a","a2","a3","b","b2","c"], "as": ["k","v"]}],
 "layer": [
  {"mark": {"type": "point", "filled": true, "opacity": 1, "strokeWidth": 0, "size": 4},
   "encoding": {
    "x": {"field": "t", "type": "quantitative", "scale": {"domain": [13,20], "nice": false, "zero": false}, "axis": null},
    "y": {"field": "v", "type": "quantitative", "scale": {"type": "log", "domain": [0.001,10000], "nice": false}, "axis": {"orient": "left", "values": [0.001,0.01,0.1,1,10,100,1000,10000], "ticks": false, "labelPadding": 8, "labelFlush": true, "labelExpr": "'10' + ['⁻⁵','⁻⁴','⁻³','⁻²','⁻¹','⁰','¹','²','³','⁴','⁵','⁶','⁷'][round(log(datum.value)/LN10)+5]", "title": "1/(cm² s sr MeV/nuc.)", "titleX": -47, "titleY": 90, "titleAngle": -90, "titleBaseline": "middle", "titleAlign": "center"}},
    "color": {"field": "k", "type": "nominal", "scale": {"domain": ["a","a2","a3","b","b2","c"], "range": ["#000000","#000000","#000000","#0000ff","#0000ff","#ff0000"]},
      "legend": {"title": null, "values": ["a","b","c"], "labelExpr": "datum.value == 'a' ? '0.12-1.08 MeV/n He' : datum.value == 'b' ? '0.12-1.08 MeV/n CNO' : '0.12-1.08 MeV Fe'", "labelColor": {"expr": "datum.value == 'a' ? '#000000' : datum.value == 'b' ? '#0000ff' : '#ff0000'"}, "columnPadding": 39}},
    "shape": {"field": "k", "type": "nominal", "scale": {"domain": ["a","a2","a3","b","b2","c"], "range": ["M-1.5,-1.5H1.5V1.5H-1.5Z","M-2.5,-1H2.5V1H-2.5Z","M-4.5,-1H4.5V1H-4.5Z","M-2,-1.3H2V1.3H-2Z","M-2,-1.3H2V1.3H-2Z","M-2,-1.3H2V1.3H-2Z"]}, "legend": null}
   }},
  {"transform": [{"filter": "datum.k == 'a3'"}], "mark": {"type": "point", "opacity": 0},
   "encoding": {
    "x": {"field": "t", "type": "quantitative", "scale": {"domain": [13,20], "nice": false, "zero": false}, "axis": {"orient": "bottom", "values": [14,16,18], "tickSize": -7, "labels": false, "title": null}},
    "y": {"field": "v", "type": "quantitative", "scale": {"type": "log", "domain": [0.001,10000], "nice": false}, "axis": {"orient": "left", "values": [0.01,0.1,1,10,100,1000], "tickSize": -15, "labels": false, "title": null}}}},
  {"transform": [{"filter": "datum.k == 'a3'"}], "mark": {"type": "point", "opacity": 0},
   "encoding": {
    "x": {"field": "t", "type": "quantitative", "scale": {"domain": [13,20], "nice": false, "zero": false}, "axis": {"orient": "bottom", "values": [13.5,14,14.5,15,15.5,16,16.5,17,17.5,18,18.5,19,19.5], "tickSize": -4, "labels": false, "title": null}},
    "y": {"field": "v", "type": "quantitative", "scale": {"type": "log", "domain": [0.001,10000], "nice": false}, "axis": null}}},
  {"transform": [{"filter": "datum.k == 'a3'"}], "mark": {"type": "point", "opacity": 0},
   "encoding": {
    "x": {"field": "t", "type": "quantitative", "scale": {"domain": [13,20], "nice": false, "zero": false}, "axis": {"orient": "top", "values": [14,16,18], "tickSize": -7, "labels": false, "title": null}},
    "y": {"field": "v", "type": "quantitative", "scale": {"type": "log", "domain": [0.001,10000], "nice": false}, "axis": {"orient": "right", "values": [0.01,0.1,1,10,100,1000], "tickSize": -15, "labels": false, "title": null}}}},
  {"transform": [{"filter": "datum.k == 'a3'"}], "mark": {"type": "point", "opacity": 0},
   "encoding": {
    "x": {"field": "t", "type": "quantitative", "scale": {"domain": [13,20], "nice": false, "zero": false}, "axis": {"orient": "top", "values": [13.5,14,14.5,15,15.5,16,16.5,17,17.5,18,18.5,19,19.5], "tickSize": -4, "labels": false, "title": null}},
    "y": {"field": "v", "type": "quantitative", "scale": {"type": "log", "domain": [0.001,10000], "nice": false}, "axis": null}}}
 ],
 "resolve": {"axis": {"x": "independent", "y": "independent"}}
},
{
 "width": 697, "height": 180,
 "data": {"values": [
{"t":13,"a":1e-4},{"t":13.1,"a":1e-4},{"t":13.2,"a":1e-4},{"t":13.3,"a":1e-4},{"t":13.4,"a":1e-4},{"t":13.5,"a":1e-4},{"t":13.6,"a":1e-4},{"t":13.7,"a":1e-4},{"t":13.8,"a":1e-4},{"t":13.9,"a":1e-4},
{"t":14,"a":1e-4},{"t":14.1,"a":1e-4},{"t":14.2,"a":1e-4},{"t":14.3,"a":1e-4},{"t":14.4,"a":1e-4},{"t":14.5,"a":1e-4},{"t":14.6,"a":1e-4},{"t":14.7,"a":1e-4},{"t":14.8,"a":1e-4},{"t":14.9,"a":1e-4},
{"t":15,"a":1e-4},{"t":15.1,"a":1e-4},{"t":15.2,"a":1e-4},{"t":15.3,"a":1e-4},{"t":15.4,"a":1e-4},{"t":15.5,"a":1e-4},{"t":15.6,"a":1e-4},{"t":15.7,"a":1e-4},{"t":15.8,"a":1e-4},{"t":15.9,"a":1e-4},
{"t":16,"a":1e-4},{"t":16.1,"a":1e-4},{"t":16.2,"a":1e-4},{"t":16.3,"a":1e-4},{"t":16.4,"a":1e-4},{"t":16.5,"a":1e-4},{"t":16.6,"a":1e-4},{"t":16.7,"a":1e-4},{"t":16.8,"a":1e-4},{"t":16.9,"a":1e-4},
{"t":17,"a":1e-4},{"t":17.1,"a":1e-4},{"t":17.2,"a":1e-4},{"t":17.3,"a":1e-4},{"t":17.4,"a":1e-4},{"t":17.5,"a":1e-4},{"t":17.6,"a":1e-4},{"t":17.7,"a":1e-4},{"t":17.8,"a":1e-4},{"t":17.9,"a":1e-4},
{"t":18,"a":1e-4},{"t":18.1,"a":1e-4},{"t":18.2,"a":1e-4},{"t":18.3,"a":1e-4},{"t":18.4,"a":1e-4},{"t":18.5,"a":1e-4},{"t":18.6,"a":1e-4},{"t":18.7,"a":1e-4},{"t":18.8,"a":1e-4},{"t":18.9,"a":1e-4},
{"t":19,"a":1e-4},{"t":19.1,"a":1e-4},{"t":19.2,"a":1e-4},{"t":19.3,"a":1e-4},{"t":19.4,"a":1e-4},{"t":19.5,"a":1e-4},{"t":19.6,"a":1e-4},{"t":19.7,"a":1e-4},{"t":19.8,"a":1e-4},{"t":19.9,"a":1e-4},
{"t":13.05,"a2":2e-4},{"t":13.1,"a2":2e-4},{"t":13.15,"a2":2e-4},{"t":13.22,"a2":2e-4},{"t":13.25,"a2":2e-4},{"t":13.27,"a2":2e-4},{"t":13.37,"a2":2e-4},{"t":13.4,"a2":2e-4},{"t":13.43,"a2":2e-4},{"t":13.46,"a2":2e-4},{"t":13.49,"a2":2e-4},{"t":13.52,"a2":2e-4},{"t":13.59,"a2":2e-4},{"t":13.62,"a2":2e-4},{"t":13.65,"a2":2e-4},{"t":13.68,"a2":2e-4},{"t":13.7,"a2":2e-4},{"t":13.79,"a2":2e-4},{"t":13.85,"a2":2e-4},{"t":13.92,"a2":2e-4},
{"t":14.07,"a2":2e-4},{"t":14.2,"a2":2e-4},{"t":14.23,"a2":2e-4},{"t":14.27,"a2":2e-4},{"t":14.3,"a2":2e-4},{"t":14.34,"a2":2e-4},{"t":14.41,"a2":2e-4},{"t":14.47,"a2":2e-4},{"t":14.64,"a2":2e-4},{"t":14.68,"a2":2e-4},{"t":14.71,"a2":2e-4},{"t":14.76,"a2":2e-4},{"t":14.86,"a2":2e-4},{"t":15.01,"a2":2e-4},{"t":15.14,"a2":2e-4},{"t":15.21,"a2":2e-4},{"t":15.25,"a2":2e-4},{"t":15.3,"a2":2e-4},{"t":15.34,"a2":2e-4},{"t":15.43,"a2":2e-4},
{"t":15.54,"a2":2e-4},{"t":15.64,"a2":2e-4},{"t":15.78,"a2":2e-4},{"t":15.86,"a2":2e-4},{"t":15.91,"a2":2e-4},{"t":15.96,"a2":2e-4},{"t":16.13,"a2":2e-4},{"t":16.21,"a2":2e-4},{"t":16.25,"a2":2e-4},{"t":16.29,"a2":2e-4},{"t":16.33,"a2":2e-4},{"t":16.38,"a2":2e-4},{"t":16.48,"a2":2e-4},{"t":16.5,"a2":2e-4},{"t":16.6,"a2":2e-4},{"t":16.64,"a2":2e-4},{"t":16.68,"a2":2e-4},{"t":16.71,"a2":2e-4},{"t":16.88,"a2":2e-4},{"t":17.0,"a2":2e-4},
{"t":17.04,"a2":2e-4},{"t":17.1,"a2":2e-4},{"t":17.15,"a2":2e-4},{"t":17.19,"a2":2e-4},{"t":17.23,"a2":2e-4},{"t":17.28,"a2":2e-4},{"t":17.35,"a2":2e-4},{"t":17.47,"a2":2e-4},{"t":17.51,"a2":2e-4},{"t":17.56,"a2":2e-4},{"t":17.62,"a2":2e-4},{"t":17.77,"a2":2e-4},{"t":17.81,"a2":2e-4},{"t":17.85,"a2":2e-4},{"t":17.88,"a2":2e-4},{"t":17.97,"a2":2e-4},{"t":18.02,"a2":2e-4},{"t":18.14,"a2":2e-4},{"t":18.19,"a2":2e-4},{"t":18.24,"a2":2e-4},
{"t":18.3,"a2":2e-4},{"t":18.5,"a2":2e-4},{"t":18.55,"a2":2e-4},{"t":18.6,"a2":2e-4},{"t":18.65,"a2":2e-4},{"t":18.7,"a2":2e-4},{"t":18.75,"a2":2e-4},{"t":18.8,"a2":2e-4},{"t":18.89,"a2":2e-4},{"t":19.07,"a2":2e-4},{"t":19.17,"a2":2e-4},{"t":19.29,"a2":2e-4},{"t":19.36,"a2":2e-4},{"t":19.44,"a2":2e-4},{"t":19.47,"a2":2e-4},{"t":19.51,"a2":2e-4},{"t":19.56,"a2":2e-4},{"t":19.61,"a2":2e-4},{"t":19.66,"a2":2e-4},{"t":19.71,"a2":2e-4},{"t":19.83,"a2":2e-4},{"t":19.88,"a2":2e-4},
{"t":13.75,"a2":3.2e-4},{"t":13.87,"a2":3.2e-4},{"t":13.94,"a2":3.2e-4},{"t":14.31,"a2":3.2e-4},{"t":15.21,"a2":3.2e-4},{"t":15.24,"a2":3.2e-4},{"t":16.54,"a2":3.2e-4},{"t":17.0,"a2":3.2e-4},{"t":17.17,"a2":3.2e-4},{"t":17.37,"a2":3.2e-4},{"t":17.82,"a2":3.2e-4},{"t":17.9,"a2":3.2e-4},{"t":18.45,"a2":3.2e-4},{"t":18.5,"a2":3.2e-4},{"t":18.72,"a2":3.2e-4},{"t":18.77,"a2":3.2e-4},{"t":19.07,"a2":3.2e-4},{"t":19.36,"a2":3.2e-4},{"t":19.46,"a2":3.2e-4},{"t":19.69,"a2":3.2e-4},{"t":19.73,"a2":3.2e-4},
{"t":15.39,"a2":5e-4},{"t":16.23,"a2":5e-4},{"t":17.68,"a2":5e-4},
{"t":13.22,"b":1e-4},{"t":13.25,"b":1e-4},{"t":13.28,"b":1e-4},{"t":13.31,"b":1e-4},{"t":13.35,"b":1e-4},{"t":13.75,"b":1e-4},{"t":13.94,"b":1e-4},{"t":14.19,"b":1.2e-4},{"t":14.22,"b":1.2e-4},{"t":14.47,"b":1e-4},{"t":14.61,"b":1e-4},{"t":14.71,"b":1e-4},{"t":14.82,"b":1e-4},{"t":15.18,"b":1.2e-4},{"t":15.49,"b":1e-4},{"t":15.85,"b":1e-4},{"t":16.0,"b":1.2e-4},{"t":16.15,"b":1e-4},{"t":16.26,"b":1e-4},{"t":16.73,"b":1e-4},{"t":16.78,"b":1e-4},{"t":16.83,"b":1e-4},
{"t":16.88,"b":1e-4},{"t":16.93,"b":1e-4},{"t":16.98,"b":1.2e-4},{"t":17.17,"b":1e-4},{"t":17.22,"b":1e-4},{"t":17.27,"b":1e-4},{"t":17.47,"b":1e-4},{"t":17.5,"b":1e-4},{"t":17.57,"b":1e-4},{"t":17.77,"b":1e-4},{"t":17.94,"b":1e-4},{"t":18.03,"b":1e-4},{"t":18.14,"b":1e-4},{"t":18.25,"b":1e-4},{"t":18.32,"b":1e-4},{"t":18.6,"b":2e-4},{"t":18.84,"b":1e-4},{"t":19.11,"b":1e-4},{"t":19.34,"b":1e-4},{"t":19.51,"b":1e-4},{"t":19.68,"b":1e-4},{"t":19.74,"b":1e-4},
{"t":13.22,"b2":1.2e-5},{"t":13.33,"b2":1.2e-5},{"t":13.45,"b2":1.2e-5},{"t":13.57,"b2":1.2e-5},{"t":13.6,"b2":1.2e-5},{"t":13.65,"b2":1.2e-5},{"t":13.72,"b2":1.2e-5},{"t":13.79,"b2":1.2e-5},{"t":13.87,"b2":1.2e-5},{"t":14.17,"b2":1.2e-5},{"t":14.22,"b2":1.2e-5},{"t":14.39,"b2":1.2e-5},{"t":14.42,"b2":2.7e-5},{"t":14.47,"b2":1.2e-5},{"t":14.57,"b2":1.2e-5},{"t":14.74,"b2":1.2e-5},{"t":15.09,"b2":1.2e-5},{"t":15.18,"b2":1.2e-5},{"t":15.34,"b2":1.2e-5},{"t":15.48,"b2":1.2e-5},{"t":15.56,"b2":1.2e-5},{"t":15.68,"b2":1.2e-5},{"t":15.85,"b2":1.2e-5},{"t":15.93,"b2":1.2e-5},{"t":16.05,"b2":1.2e-5},{"t":16.45,"b2":1.2e-5},{"t":16.5,"b2":1.2e-5},
{"t":16.61,"b2":1.2e-5},{"t":16.71,"b2":1.2e-5},{"t":16.8,"b2":1.2e-5},{"t":17.01,"b2":1.2e-5},{"t":17.08,"b2":1.2e-5},{"t":17.17,"b2":1.2e-5},{"t":17.28,"b2":1.2e-5},{"t":17.33,"b2":1.2e-5},{"t":17.47,"b2":1.2e-5},{"t":17.7,"b2":1.2e-5},{"t":17.93,"b2":1.2e-5},{"t":18.19,"b2":1.2e-5},{"t":18.24,"b2":1.2e-5},{"t":18.5,"b2":1.2e-5},{"t":18.6,"b2":1.2e-5},{"t":18.65,"b2":1.2e-5},{"t":18.82,"b2":1.2e-5},{"t":18.97,"b2":1.2e-5},{"t":18.99,"b2":1.2e-5},{"t":19.14,"b2":1.2e-5},{"t":19.24,"b2":1.2e-5},{"t":19.27,"b2":1.2e-5},{"t":19.36,"b2":1.2e-5},{"t":19.44,"b2":1.2e-5},{"t":19.59,"b2":1.2e-5},{"t":19.74,"b2":1.2e-5},{"t":19.88,"b2":1.2e-5},
{"t":16.03,"c":1e-4}
 ]},
 "transform": [{"fold": ["a","a2","b","b2","c"], "as": ["k","v"]}],
 "layer": [
  {"mark": {"type": "point", "filled": true, "opacity": 1, "strokeWidth": 0, "size": 4},
   "encoding": {
    "x": {"field": "t", "type": "quantitative", "scale": {"domain": [13,20], "nice": false, "zero": false}, "axis": {"orient": "bottom", "values": [14,16,18,20], "ticks": false, "labelPadding": 8, "labelFlush": false, "labelExpr": "datum.value + '-Jul'", "title": "STEREO Ahead", "titleX": 0, "titleY": 30, "titleAlign": "left", "titleAnchor": "start", "titleBaseline": "middle"}},
    "y": {"field": "v", "type": "quantitative", "scale": {"type": "log", "domain": [0.00001,1000], "nice": false}, "axis": {"orient": "left", "values": [0.0001,0.01,1,100], "ticks": false, "labelPadding": 8, "labelFlush": true, "labelExpr": "'10' + ['⁻⁵','⁻⁴','⁻³','⁻²','⁻¹','⁰','¹','²','³','⁴','⁵','⁶','⁷'][round(log(datum.value)/LN10)+5]", "title": "1/(cm² s sr MeV/nuc.)", "titleX": -47, "titleY": 90, "titleAngle": -90, "titleBaseline": "middle", "titleAlign": "center"}},
    "color": {"field": "k", "type": "nominal", "scale": {"domain": ["a","a2","b","b2","c"], "range": ["#000000","#000000","#0000ff","#0000ff","#ff0000"]},
      "legend": {"title": null, "values": ["a","b","c"], "labelExpr": "datum.value == 'a' ? '4 to 12 MeV/n He' : datum.value == 'b' ? '4 to 12 MeV/n CNO' : '4 to 12 MeV Fe'", "labelColor": {"expr": "datum.value == 'a' ? '#000000' : datum.value == 'b' ? '#0000ff' : '#ff0000'"}, "columnPadding": 39}},
    "shape": {"field": "k", "type": "nominal", "scale": {"domain": ["a","a2","b","b2","c"], "range": ["M-4,-0.8H4V0.8H-4Z","M-1.3,-1.3H1.3V1.3H-1.3Z","M-2.5,-1H2.5V1H-2.5Z","M-1.3,-1.3H1.3V1.3H-1.3Z","M-1.5,-1.3H1.5V1.3H-1.5Z"]}, "legend": null}
   }},
  {"transform": [{"filter": "datum.k == 'a'"}], "mark": {"type": "point", "opacity": 0},
   "encoding": {
    "x": {"field": "t", "type": "quantitative", "scale": {"domain": [13,20], "nice": false, "zero": false}, "axis": {"orient": "bottom", "values": [14,16,18], "tickSize": -9, "labels": false, "title": "Start: 13-Jul-2020 00:00 UTC", "titleX": 215, "titleY": 30, "titleAlign": "left", "titleBaseline": "middle"}},
    "y": {"field": "v", "type": "quantitative", "scale": {"type": "log", "domain": [0.00001,1000], "nice": false}, "axis": {"orient": "left", "values": [0.0001,0.01,1,100], "tickSize": -15, "labels": false, "title": null}}}},
  {"transform": [{"filter": "datum.k == 'a'"}], "mark": {"type": "point", "opacity": 0},
   "encoding": {
    "x": {"field": "t", "type": "quantitative", "scale": {"domain": [13,20], "nice": false, "zero": false}, "axis": {"orient": "bottom", "values": [13.5,14,14.5,15,15.5,16,16.5,17,17.5,18,18.5,19,19.5], "tickSize": -4.5, "labels": false, "title": null}},
    "y": {"field": "v", "type": "quantitative", "scale": {"type": "log", "domain": [0.00001,1000], "nice": false}, "axis": {"orient": "left", "values": [0.001,0.1,10], "tickSize": -7, "labels": false, "title": null}}}},
  {"transform": [{"filter": "datum.k == 'a'"}], "mark": {"type": "point", "opacity": 0},
   "encoding": {
    "x": {"field": "t", "type": "quantitative", "scale": {"domain": [13,20], "nice": false, "zero": false}, "axis": {"orient": "top", "values": [14,16,18], "tickSize": -7, "labels": false, "title": null}},
    "y": {"field": "v", "type": "quantitative", "scale": {"type": "log", "domain": [0.00001,1000], "nice": false}, "axis": {"orient": "right", "values": [0.0001,0.01,1,100], "tickSize": -15, "labels": false, "title": null}}}},
  {"transform": [{"filter": "datum.k == 'a'"}], "mark": {"type": "point", "opacity": 0},
   "encoding": {
    "x": {"field": "t", "type": "quantitative", "scale": {"domain": [13,20], "nice": false, "zero": false}, "axis": {"orient": "top", "values": [13.5,14,14.5,15,15.5,16,16.5,17,17.5,18,18.5,19,19.5], "tickSize": -4, "labels": false, "title": null}},
    "y": {"field": "v", "type": "quantitative", "scale": {"type": "log", "domain": [0.00001,1000], "nice": false}, "axis": {"orient": "right", "values": [0.001,0.1,10], "tickSize": -7, "labels": false, "title": null}}}}
 ],
 "resolve": {"axis": {"x": "independent", "y": "independent"}}
}
]
}
